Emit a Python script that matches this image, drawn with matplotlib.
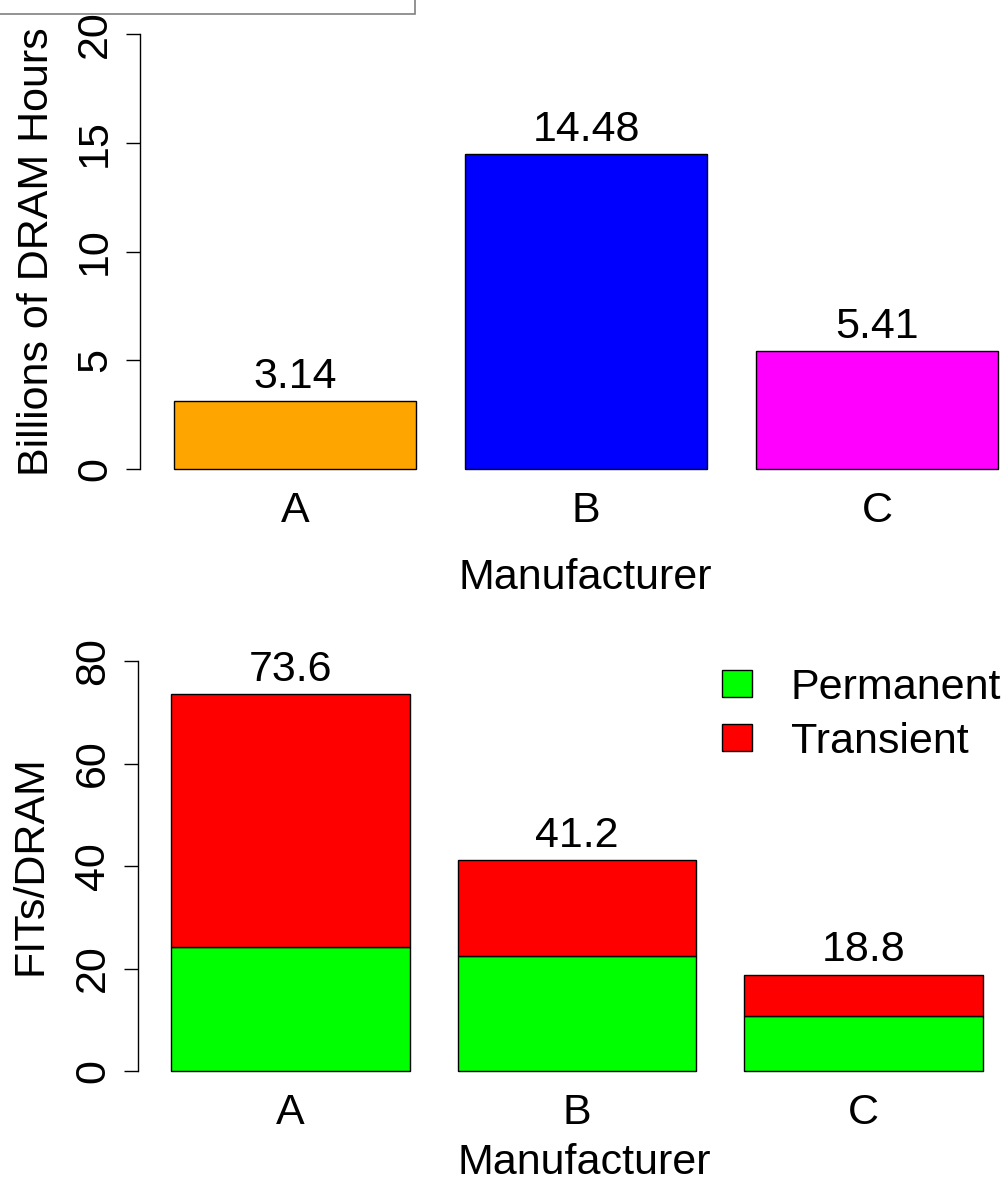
import matplotlib
matplotlib.use("Agg")
import matplotlib.pyplot as plt
from matplotlib.patches import Rectangle, Patch

plt.rcParams['font.family'] = ['Liberation Sans', 'DejaVu Sans']

# ---- data ----
manufacturers = ["A", "B", "C"]
dram_hours = [3.14, 14.48, 5.41]
hour_colors = ["#FFA500", "#0000FF", "#FF00FF"]
permanent = [24.2, 22.4, 10.7]
totals = [73.6, 41.2, 18.8]
transient = [t - p for t, p in zip(totals, permanent)]
top_yticks = [0, 5, 10, 15, 20]
bot_yticks = [0, 20, 40, 60, 80]

W, H = 1001, 1182
DPI = 100
FS = 31
fig = plt.figure(figsize=(W / DPI, H / DPI), dpi=DPI)

# bar layout (R barplot style: width 1, space 0.2)
lefts = [0.2 + 1.2 * i for i in range(3)]
centers = [l + 0.5 for l in lefts]


def make_axes(px_left, px_right, px_top, px_bottom, x_anchor_px, ppu_x, y0_px, ppu_y):
    ax = fig.add_axes([px_left / W, 1 - px_bottom / H,
                       (px_right - px_left) / W, (px_bottom - px_top) / H])
    ax.set_xlim(0.2 + (px_left - x_anchor_px) / ppu_x, 0.2 + (px_right - x_anchor_px) / ppu_x)
    ax.set_ylim((y0_px - px_bottom) / ppu_y, (y0_px - px_top) / ppu_y)
    ax.patch.set_alpha(0)
    for s in ["top", "right", "bottom"]:
        ax.spines[s].set_visible(False)
    ax.spines["left"].set_linewidth(1.0)
    return ax


# ---- top panel ----
ax1 = make_axes(140, 1031, 17, 486, 174, 242.4, 469, 21.75)
ax1.bar(centers, dram_hours, width=1.0, color=hour_colors, edgecolor="black", linewidth=1.0)
for x, v in zip(centers, dram_hours):
    ax1.annotate(f"{v:.2f}", (x, v), xytext=(0, 3), textcoords="offset points",
                 ha="center", va="bottom", fontsize=FS)
ax1.spines["left"].set_bounds(0, 20)
ax1.set_yticks(top_yticks)
ax1.set_yticklabels([str(t) for t in top_yticks], rotation=90, va="center")
ax1.tick_params(axis="y", length=10, width=1.0, pad=8, labelsize=FS)
ax1.set_xticks(centers)
ax1.set_xticklabels(manufacturers)
ax1.tick_params(axis="x", length=0, pad=3.5, labelsize=FS)
ax1.set_xlabel("Manufacturer", fontsize=FS, labelpad=19.5)
ax1.set_ylabel("Billions of DRAM Hours", fontsize=FS, labelpad=13)

# ---- bottom panel ----
ax2 = make_axes(138, 1031, 644, 1087, 171, 238.8, 1071, 5.125)
ax2.bar(centers, permanent, width=1.0, color="#00FF00", edgecolor="black", linewidth=1.0)
ax2.bar(centers, transient, width=1.0, bottom=permanent, color="#FF0000",
        edgecolor="black", linewidth=1.0)
for x, v in zip(centers, totals):
    ax2.annotate(f"{v:.1f}", (x, v), xytext=(0, 3), textcoords="offset points",
                 ha="center", va="bottom", fontsize=FS)
ax2.spines["left"].set_bounds(0, 80)
ax2.set_yticks(bot_yticks)
ax2.set_yticklabels([str(t) for t in bot_yticks], rotation=90, va="center")
ax2.tick_params(axis="y", length=10, width=1.0, pad=8, labelsize=FS)
ax2.set_xticks(centers)
ax2.set_xticklabels(manufacturers)
ax2.tick_params(axis="x", length=0, pad=4, labelsize=FS)
ax2.set_xlabel("Manufacturer", fontsize=FS, labelpad=7.5)
ax2.set_ylabel("FITs/DRAM", fontsize=FS, labelpad=16)

handles = [Patch(facecolor="#00FF00", edgecolor="black", linewidth=1.0),
           Patch(facecolor="#FF0000", edgecolor="black", linewidth=1.0)]
fig.legend(handles, ["Permanent", "Transient"], loc="upper left",
           bbox_to_anchor=(722 / W, 1 - 668 / H), frameon=False, fontsize=FS,
           handlelength=0.7, handleheight=0.58, handletextpad=0.9,
           labelspacing=0.32, borderpad=0, borderaxespad=0)

# cropped note box at the top left
fig.patches.append(Rectangle((-0.01, 1 - 13.5 / H), 0.01 + 415 / W, 0.1,
                             transform=fig.transFigure, fill=False,
                             edgecolor="#808080", linewidth=1.2))

fig.savefig("out.png", dpi=DPI)
